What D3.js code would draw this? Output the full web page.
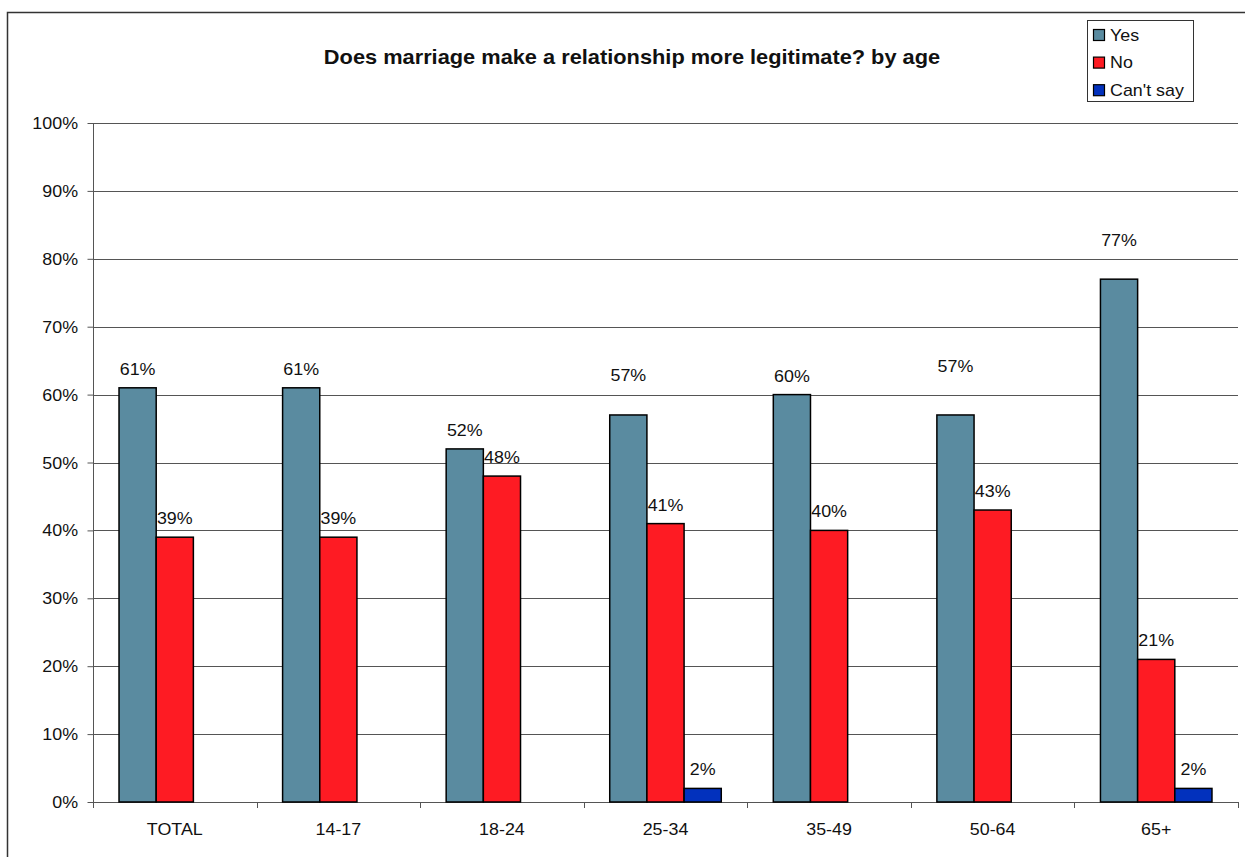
<!DOCTYPE html>
<html>
<head>
<meta charset="utf-8">
<script src="https://cdn.jsdelivr.net/npm/d3@7/dist/d3.min.js"></script>
<style>
  html, body { margin: 0; padding: 0; background: #fff; }
  svg { display: block; }
  text { font-family: "Liberation Sans", Arial, sans-serif; fill: #111; }
</style>
</head>
<body>
<svg id="chart" width="1245" height="857"></svg>
<script>
// Survey answers by age group (share of respondents)
const categories = ["TOTAL", "14-17", "18-24", "25-34", "35-49", "50-64", "65+"];
const seriesNames = ["Yes", "No", "Can't say"];
const yesValues = [0.61, 0.61, 0.52, 0.57, 0.60, 0.57, 0.77];
const noValues = [0.39, 0.39, 0.48, 0.41, 0.40, 0.43, 0.21];
const cantSayValues = [0, 0, 0, 0.02, 0, 0, 0.02];
const yTicks = [0, 0.1, 0.2, 0.3, 0.4, 0.5, 0.6, 0.7, 0.8, 0.9, 1.0];
const titleText = "Does marriage make a relationship more legitimate? by age";

const colors = { "Yes": "#5a8ba0", "No": "#fe1b23", "Can't say": "#0231bd" };

// Some value labels sit higher than the default spot (extra lift in px)
const labelLift = { "25-34|Yes": 21, "50-64|Yes": 30, "65+|Yes": 20 };

const seriesValues = [yesValues, noValues, cantSayValues];
const rows = [];
categories.forEach((c, i) => {
  seriesNames.forEach((s, j) => {
    rows.push({ category: c, series: s, value: seriesValues[j][i] });
  });
});

const svg = d3.select("#chart");
const plot = { left: 93, right: 1238, top: 123, bottom: 802 };
const fontSize = 17;
const stretch = 1.05;

// Outer frame
svg.append("rect")
  .attr("x", 7.5).attr("y", 12.5)
  .attr("width", 1260).attr("height", 900)
  .attr("fill", "none").attr("stroke", "#333").attr("stroke-width", 1.5);

const x = d3.scaleBand().domain(categories).range([plot.left, plot.right]).paddingInner(0).paddingOuter(0);
const gapRatio = 1.4;
const barW = x.bandwidth() / (seriesNames.length + gapRatio);
const xSub = d3.scaleBand().domain(seriesNames).range([0, barW * seriesNames.length]);
const groupOffset = (x.bandwidth() - barW * seriesNames.length) / 2;
const y = d3.scaleLinear().domain([0, 1]).range([plot.bottom, plot.top]);

function addText(g, tx, ty, str, anchor, opts = {}) {
  return g.append("text")
    .attr("transform", `translate(${tx},${ty}) scale(${opts.stretch || stretch},1)`)
    .attr("text-anchor", anchor)
    .style("font-size", (opts.size || fontSize) + "px")
    .style("font-weight", opts.weight || "normal")
    .text(str);
}

// Horizontal gridlines
svg.append("g")
  .selectAll("line")
  .data(yTicks.filter(t => t > 0))
  .join("line")
  .attr("x1", plot.left).attr("x2", plot.right)
  .attr("y1", d => Math.round(y(d)) + 0.5).attr("y2", d => Math.round(y(d)) + 0.5)
  .attr("stroke", "#555").attr("stroke-width", 1);

// Y axis
const yAxis = d3.axisLeft(y).tickValues(yTicks).tickSize(6).tickFormat(() => "");
const yAxisG = svg.append("g").attr("transform", `translate(${plot.left + 0.5},0)`).call(yAxis);
yAxisG.select(".domain").attr("stroke", "#555").attr("d", `M0,${plot.top}V${plot.bottom + 6}`);
yAxisG.selectAll(".tick line").attr("stroke", "#555");
const yLabels = svg.append("g");
yTicks.forEach(t => addText(yLabels, 78, y(t) + 6, d3.format(".0%")(t), "end"));

// X axis with ticks on category boundaries
const boundaries = categories.map(c => x(c)).concat([plot.right]);
const xAxisG = svg.append("g");
xAxisG.append("line")
  .attr("x1", plot.left).attr("x2", plot.right)
  .attr("y1", plot.bottom + 0.5).attr("y2", plot.bottom + 0.5)
  .attr("stroke", "#555");
xAxisG.selectAll("line.tick")
  .data(boundaries)
  .join("line").attr("class", "tick")
  .attr("x1", d => Math.round(d) + 0.5).attr("x2", d => Math.round(d) + 0.5)
  .attr("y1", plot.bottom).attr("y2", plot.bottom + 6)
  .attr("stroke", "#555");
categories.forEach(c => addText(xAxisG, x(c) + x.bandwidth() / 2, 835, c, "middle"));

// Bars
const bars = rows.filter(d => d.value > 0);
svg.append("g")
  .selectAll("rect")
  .data(bars)
  .join("rect")
  .attr("x", d => x(d.category) + groupOffset + xSub(d.series))
  .attr("y", d => y(d.value))
  .attr("width", barW)
  .attr("height", d => y(0) - y(d.value))
  .attr("fill", d => colors[d.series])
  .attr("stroke", "#000").attr("stroke-width", 1.5);

// Value labels
const labelG = svg.append("g");
bars.forEach(d => {
  const cx = x(d.category) + groupOffset + xSub(d.series) + barW / 2;
  const lift = labelLift[d.category + "|" + d.series] || 0;
  addText(labelG, cx, y(d.value) - 13 - lift, d3.format(".0%")(d.value), "middle");
});

// Title
addText(svg, 632, 64, titleText, "middle", { size: 20, weight: "bold", stretch: 1.09 });

// Legend
const legend = svg.append("g");
legend.append("rect")
  .attr("x", 1087.5).attr("y", 20.5).attr("width", 106).attr("height", 81)
  .attr("fill", "#fff").attr("stroke", "#333").attr("stroke-width", 1);
seriesNames.forEach((s, i) => {
  const top = 29 + i * 27.6;
  legend.append("rect")
    .attr("x", 1093.5).attr("y", top + 0.5).attr("width", 11).attr("height", 11)
    .attr("fill", colors[s]).attr("stroke", "#000").attr("stroke-width", 1.2);
  addText(legend, 1110, top + 11.5, s, "start");
});
</script>
</body>
</html>
